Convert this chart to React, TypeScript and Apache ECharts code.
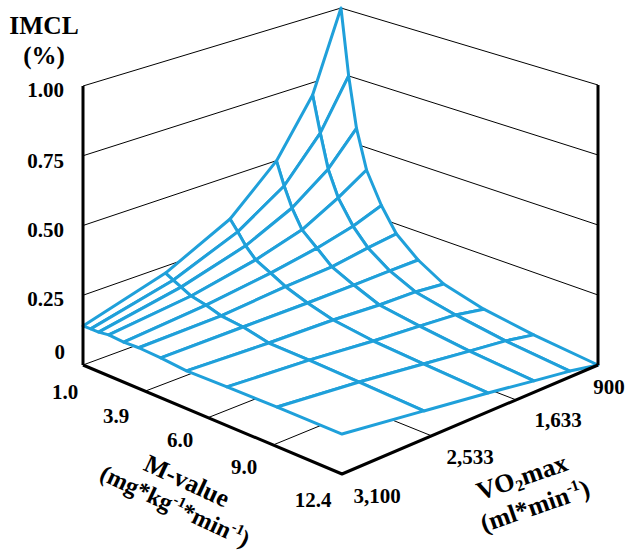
import React, { useEffect, useRef } from "react";
import * as echarts from "echarts";

// ---- data ----
const mTicks = [1.0, 3.9, 6.0, 9.0, 12.4];
const mTickLabels = ["1.0", "3.9", "6.0", "9.0", "12.4"];
const vo2Ticks = [3100, 2533, 1633, 900];
const vo2TickLabels = ["3,100", "2,533", "1,633", "900"];
const imclTicks = [0, 0.25, 0.5, 0.75, 1.0];
const imclTickLabels = ["0", "0.25", "0.50", "0.75", "1.00"];

const mMesh = [1.0, 1.36, 1.73, 2.2, 2.9, 3.6, 4.42, 5.28, 6.87, 9.2, 12.4];
const vo2Mesh = [3100, 2582, 1933, 1473, 1152, 900];

// IMCL (%) - one list per VO2 mesh line, one value per M mesh line
const imcl3100 = [0.14, 0.141, 0.141, 0.146, 0.142, 0.144, 0.14, 0.132, 0.134, 0.136, 0.135];
const imcl2582 = [0.225, 0.21, 0.196, 0.178, 0.166, 0.149, 0.14, 0.119, 0.115, 0.108, 0.097];
const imcl1933 = [0.341, 0.304, 0.263, 0.225, 0.197, 0.168, 0.139, 0.113, 0.093, 0.08, 0.066];
const imcl1473 = [0.499, 0.415, 0.343, 0.275, 0.227, 0.178, 0.141, 0.103, 0.081, 0.059, 0.04];
const imcl1152 = [0.703, 0.568, 0.442, 0.347, 0.26, 0.199, 0.143, 0.1, 0.07, 0.043, 0.021];
const imcl900 = [1.0, 0.75, 0.56, 0.415, 0.3, 0.213, 0.144, 0.089, 0.05, 0.023, 0.0];
const imclRows = [imcl3100, imcl2582, imcl1933, imcl1473, imcl1152, imcl900];

// ---- projection of the 3-D box onto the page ----
const mTickPos = [0, 0.24, 0.483, 0.734, 1];
const vo2TickPos = [0, 0.35, 0.68, 1];
const LEFT = { x: 83, y: 365, h: 279 };
const FRONT = { x: 342, y: 474, h: 296 };
const BACK = { x: 341, y: 270, h: 262 };
const RIGHT = { x: 598, y: 365, h: 280 };

function piecewise(v: number, from: number[], to: number[]) {
  const asc = from[from.length - 1] > from[0];
  for (let i = 0; i < from.length - 1; i++) {
    const a = from[i];
    const b = from[i + 1];
    if ((asc && v <= b) || (!asc && v >= b) || i === from.length - 2) {
      return to[i] + ((v - a) / (b - a)) * (to[i + 1] - to[i]);
    }
  }
  return to[0];
}
const mScale = (m: number) => piecewise(m, mTicks, mTickPos);
const vo2Scale = (v: number) => piecewise(v, vo2Ticks, vo2TickPos);

function project(s: number, t: number, z: number): [number, number] {
  const bi = (k: "x" | "y" | "h") =>
    (1 - s) * ((1 - t) * LEFT[k] + t * BACK[k]) + s * ((1 - t) * FRONT[k] + t * RIGHT[k]);
  return [bi("x"), bi("y") - z * bi("h")];
}
const surfacePoint = (i: number, j: number) =>
  project(mScale(mMesh[i]), vo2Scale(vo2Mesh[j]), imclRows[j][i]);

const BLUE = "#1fa0da";
const FONT = '"Liberation Serif", "Times New Roman", serif';

function frameLine(points: [number, number][], width: number) {
  return {
    type: "line",
    data: points,
    showSymbol: false,
    silent: true,
    clip: false,
    z: width > 2 ? 3 : 1,
    lineStyle: { color: "#000", width, cap: "butt" },
  };
}

function boldText(text: string, x: number, y: number, fontSize: number, extra: any = {}) {
  return {
    type: "text",
    x,
    y,
    silent: true,
    z: 10,
    rotation: extra.rotation || 0,
    style: {
      text,
      fontFamily: FONT,
      fontWeight: "bold",
      fontSize,
      fill: "#000",
      align: extra.align || "center",
      verticalAlign: "middle",
      rich: extra.rich,
    },
  };
}

const richFor = (size: number) => ({
  a: { fontFamily: FONT, fontWeight: "bold", fontSize: size, fill: "#000", lineHeight: size + 4 },
  sup: {
    fontFamily: FONT,
    fontWeight: "bold",
    fontSize: size * 0.62,
    fill: "#000",
    verticalAlign: "top",
    lineHeight: size + 4,
  },
  sub: {
    fontFamily: FONT,
    fontWeight: "bold",
    fontSize: size * 0.62,
    fill: "#000",
    verticalAlign: "bottom",
    lineHeight: size + 4,
  },
});

const imclLabelY = [352, 299, 230, 161, 90];
const mLabelXY = [[65, 392], [116, 416], [180, 440], [244, 467], [313, 500]];
const vo2LabelXY = [[377, 496], [470, 457], [558, 420], [609, 387]];

export default function App() {
  const ref = useRef<HTMLDivElement>(null);
  useEffect(() => {
    const chart = echarts.init(ref.current!, undefined, { renderer: "svg" });

    const frame: any[] = [];
    // back walls
    imclTicks.forEach((z) => {
      frame.push(frameLine([project(0, 0, z), project(0, 1, z)], 1));
      frame.push(frameLine([project(1, 1, z), project(0, 1, z)], 1));
    });
    // floor grid
    mTicks.slice(1, -1).forEach((m) => {
      const s = mScale(m);
      frame.push(frameLine([project(s, 0, 0), project(s, 1, 0)], 1));
    });
    vo2Ticks.slice(1, -1).forEach((v) => {
      const t = vo2Scale(v);
      frame.push(frameLine([project(1, t, 0), project(0, t, 0)], 1));
    });
    // heavy axes
    const axes = [
      frameLine([project(0, 0, 0), project(0, 0, 1)], 3),
      frameLine([project(1, 1, 0), project(1, 1, 1)], 3),
      frameLine([project(0, 0, 0), project(1, 0, 0), project(1, 1, 0)], 3),
    ];

    const cells: number[][] = [];
    for (let j = vo2Mesh.length - 2; j >= 0; j--) {
      for (let i = 0; i < mMesh.length - 1; i++) cells.push([i, j]);
    }

    const surface = {
      type: "custom",
      silent: true,
      clip: false,
      z: 2,
      data: cells,
      encode: { x: 0, y: 1 },
      renderItem: (_: any, api: any) => {
        const i = api.value(0);
        const j = api.value(1);
        const pts = [
          surfacePoint(i, j),
          surfacePoint(i + 1, j),
          surfacePoint(i + 1, j + 1),
          surfacePoint(i, j + 1),
        ].map((p) => api.coord(p));
        return {
          type: "polygon",
          shape: { points: pts },
          style: { fill: "#fff", stroke: BLUE, lineWidth: 3, lineJoin: "round" },
        };
      },
    };

    const graphics: any[] = [
      boldText("IMCL", 44, 25, 25.5),
      boldText("(%)", 44, 55, 25),
    ];
    imclTickLabels.forEach((l, k) =>
      graphics.push(boldText(l, k === 0 ? 65 : 64, imclLabelY[k], 21, { align: "right" }))
    );
    mTickLabels.forEach((l, k) => graphics.push(boldText(l, mLabelXY[k][0], mLabelXY[k][1], 21)));
    vo2TickLabels.forEach((l, k) => graphics.push(boldText(l, vo2LabelXY[k][0], vo2LabelXY[k][1], 21)));

    const rotM = (-25 * Math.PI) / 180;
    const rotV = (19 * Math.PI) / 180;
    graphics.push(boldText("M-value", 187, 481, 25.5, { rotation: rotM }));
    graphics.push(
      boldText("{a|(mg*kg}{sup|-1}{a|*min}{sup|-1}{a|)}", 175, 506, 24, { rotation: rotM, rich: richFor(24) })
    );
    graphics.push(
      boldText("{a|VO}{sub|2}{a|max}", 522, 477, 26, { rotation: rotV, rich: richFor(26) })
    );
    graphics.push(
      boldText("{a|(ml*min}{sup|-1}{a|)}", 535, 506, 25.5, { rotation: rotV, rich: richFor(25.5) })
    );

    chart.setOption({
      animation: false,
      backgroundColor: "#fff",
      grid: { left: 0, right: 0, top: 0, bottom: 0 },
      xAxis: { type: "value", min: 0, max: 626, show: false },
      yAxis: { type: "value", min: 0, max: 554, inverse: true, show: false },
      series: [...frame, surface, ...axes],
      graphic: graphics,
    });
    return () => chart.dispose();
  }, []);
  return (
    <div
      ref={ref}
      style={{ position: "absolute", left: 0, top: 0, width: 626, height: 554 }}
    />
  );
}
